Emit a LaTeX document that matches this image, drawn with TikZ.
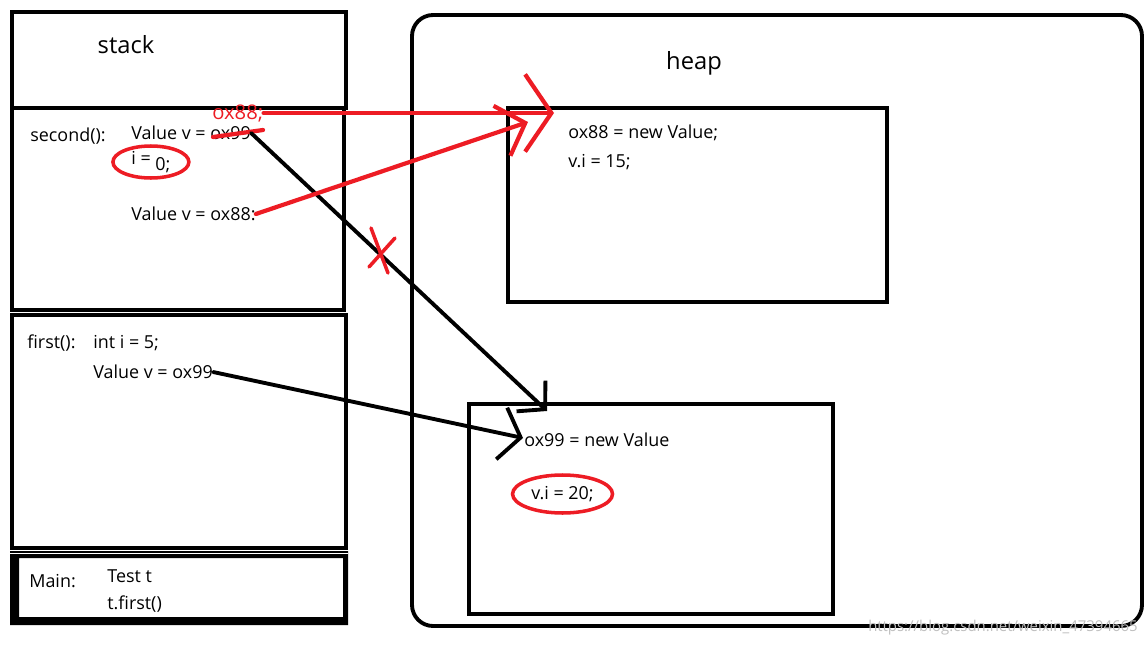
\documentclass[tikz,border=0pt]{standalone}
\usepackage{fontspec}
\setmainfont{Open Sans}
\usetikzlibrary{arrows.meta,shapes}
\definecolor{paintred}{RGB}{237,28,36}
\tikzstyle{frame} = [draw,line width=2.2pt]
\tikzstyle{code} = [anchor=west,inner sep=0pt,font=\fontsize{10.2}{12}\selectfont]
\tikzstyle{title} = [inner sep=0pt,font=\fontsize{13.5}{15}\selectfont]
\tikzstyle{ref edge} = [draw,line width=2.2pt,line cap=round]
\tikzstyle{red edge} = [draw,paintred,line width=2.4pt,line cap=round]
\tikzstyle{redmark} = [draw,paintred,line width=2pt]

\begin{document}
\begin{tikzpicture}[x=0.02cm,y=-0.02cm]
    \useasboundingbox (0,0) rectangle (1147,646);
    % stack frames
    \draw[frame] (12,12) rectangle (346,108);
    \draw[frame] (12,108) rectangle (344,310);
    \draw[frame] (12,315) rectangle (346,548);
    \fill[even odd rule] (10,551) rectangle (348,625) (19,558) rectangle (343,617);
    \draw[line width=0.6pt,white] (10,553.5) -- (348,553.5);
    % heap and its objects
    \draw[frame,rounded corners=12pt] (412,15) rectangle (1142,626);
    \draw[frame] (508,108) rectangle (887,302);
    \draw[frame] (469,404) rectangle (833,614);

    \node[title] (stack) at (126,45) {stack};
    \node[title] (heap) at (694,63) {heap};

    % texts of the frames
    \foreach \pos/\name/\text in {{(30,136)/second/second():}, {(131,133)/v99old/Value v = ox99},
                                  {(131,214)/v88/Value v = ox88:}, {(27,343)/first/first():},
                                  {(93,343)/ifirst/int i = 5;}, {(93,372)/v99/Value v = ox99},
                                  {(29,581)/main/Main:}, {(107,576)/test/Test t},
                                  {(107,604)/call/t.first()}, {(568,133)/obj88/ox88 = new Value;},
                                  {(568,162)/i15/v.i = 15;}, {(524,440)/obj99/ox99 = new Value},
                                  {(531,494)/i20/v.i = 20;}}
        \node[code] (\name) at \pos {\text};
    \node[code] (izero) at (131,162) {i = \raisebox{-3pt}{0;}};
    \node[code,text=paintred,font=\fontsize{11.5}{13}\selectfont] (new88) at (212,113) {ox88;};

    % red marks
    \draw[redmark] (izero.center) ellipse [x radius=38, y radius=16];
    \draw[redmark] (i20.center) ellipse [x radius=50, y radius=19];
    \draw[red edge] (213,137) -- (263,130);

    % references
    \coordinate (tip99a) at (547,411);
    \coordinate (tip99b) at (523,438);
    \coordinate (tip88a) at (554,113);
    \coordinate (tip88b) at (528,122);
    \path[ref edge,-{Straight Barb[length=11pt,width=24pt]}] (v99old.east) -- (tip99a);
    \path[ref edge,-{Straight Barb[length=11pt,width=30pt]}] (v99.east) -- (tip99b);
    \path[red edge,-{Straight Barb[length=15pt,width=44pt]}] (new88.east) -- (tip88a);
    \path[red edge,-{Straight Barb[length=14pt,width=30pt]}] (v88.east) -- (tip88b);

    % crossed out reference
    \draw[redmark,line cap=round] (371,228) -- (388,273);
    \draw[redmark,line cap=round] (395,238) -- (369,267);

    \node[anchor=east,inner sep=0pt,text=black!25,font=\fontsize{8.5}{10}\selectfont] (watermark) at (1138,628) {https://blog.csdn.net/weixin\_47394665};
\end{tikzpicture}
\end{document}
